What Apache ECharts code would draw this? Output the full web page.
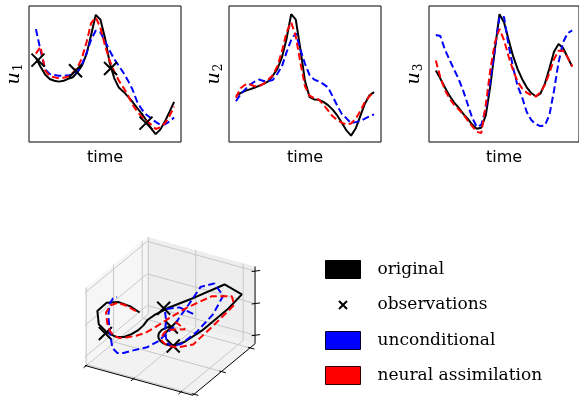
<!DOCTYPE html>
<html>
<head>
<meta charset="utf-8">
<script src="https://cdn.jsdelivr.net/npm/echarts@6/dist/echarts.min.js"></script>
<style>
  html, body { margin: 0; padding: 0; background: #fff; }
  #chart { width: 579px; height: 402px; }
</style>
</head>
<body>
<div id="chart"></div>
<script>
// sample index along time (axis has 5% margin each side)
var time = [0,1,2,3,4,5,6,7,8,9,10,11,12,13,14,15,16,17,18,19,20,21,22,23,24,25,26,27,28,29,30];

// original (black)
var origU1 = [62.0,55.3,49.6,46.3,45.0,44.4,45.0,46.5,47.6,51.3,56.2,64.8,78.8,93.5,90.0,76.5,58.5,47.0,40.0,37.0,33.4,29.4,25.0,20.7,15.8,10.1,5.8,9.1,15.0,22.2,29.5];
var origU2 = [34.0,36.0,37.6,38.7,39.9,41.3,42.8,44.6,48.7,53.8,62.4,76.0,94.0,90.0,68.3,44.8,33.0,31.3,31.0,29.5,27.1,23.8,19.5,14.2,8.5,4.7,9.9,19.0,28.2,34.4,36.7];
var origU3 = [52.5,46.6,40.1,34.1,29.2,25.3,20.9,17.2,12.8,9.7,10.5,19.7,41.4,68.1,94.0,88.0,75.3,63.1,53.6,46.2,40.2,36.0,33.6,35.5,42.9,54.2,66.3,72.0,69.1,62.2,55.5];

// unconditional (blue)
var uncU1 = [83.0,67.5,53.5,50.0,49.2,48.8,48.6,49.0,49.7,51.4,57.0,65.5,75.4,82.0,80.6,74.1,67.3,61.0,56.0,50.9,45.1,38.4,29.4,23.9,20.0,17.5,14.8,12.7,13.0,15.1,18.0];
var uncU2 = [30.0,35.0,38.7,42.0,44.3,45.9,44.9,44.8,45.6,50.2,55.7,66.1,75.0,80.0,67.9,57.5,49.2,45.9,44.6,42.6,40.2,33.5,26.7,20.5,17.4,13.9,14.6,15.4,17.2,18.8,20.3];
var uncU3 = [78.7,77.9,68.0,60.6,53.4,46.5,38.0,27.9,17.8,11.2,12.6,24.7,45.2,68.5,92.0,92.0,71.1,54.8,41.1,32.7,22.1,16.2,13.1,11.7,12.2,20.0,37.7,58.7,73.3,80.0,82.0];

// neural assimilation (red)
var nnU1 = [65.0,70.0,52.5,48.5,47.6,46.9,47.3,48.1,50.8,54.5,61.8,73.5,87.5,91.5,84.0,71.0,60.0,51.9,45.2,40.0,34.2,27.4,22.2,18.5,15.8,12.8,9.6,10.8,13.7,19.0,26.0];
var nnU2 = [32.5,39.5,42.1,42.6,41.0,41.1,42.8,45.8,49.2,55.8,66.8,80.7,88.0,77.5,58.5,40.9,34.0,32.3,31.2,27.4,23.2,18.9,16.2,14.2,12.8,13.6,17.2,22.6,29.4,33.6,37.0];
var nnU3 = [60.0,47.5,38.3,32.1,27.5,24.1,20.5,15.8,11.6,7.5,6.5,27.5,53.4,73.2,83.1,74.9,63.1,52.7,44.4,39.3,36.3,34.3,33.5,36.4,42.1,50.8,60.8,67.1,67.1,62.2,55.5];

// observations (u1 observed)
var obsTime = [0.45, 8.6, 16.2, 23.9];
var obsU1 = [60.2, 52.4, 54.1, 13.9];
var obsU2 = [34.5, 51.0, 32.8, 8.7];
var obsU3 = [50.0, 11.5, 73.0, 41.0];

// 3d axes limits and ticks
var lim3dU1 = [0, 100];
var lim3dU2 = [0, 100];
var lim3dU3 = [0, 100];
var tick3dU1 = [1, 45, 89];
var tick3dU2 = [2, 46, 92];
var tick3dU3 = [11, 52, 94];

var BLACK = '#000000', BLUE = '#0000ff', RED = '#ff0000';
var DASH = [7, 3.5];

// --- 3d projection (azim -60, elev 30, box aspect 4:4:3) ---
var az = -60 * Math.PI / 180, el = 30 * Math.PI / 180, zAsp = 0.75;
function projN(x, y, z) {
  var sx = -Math.sin(az) * x + Math.cos(az) * y;
  var sy = -Math.sin(el) * Math.cos(az) * x - Math.sin(el) * Math.sin(az) * y + Math.cos(el) * z;
  return [sx, sy];
}
function nrm(v, lim) { return (v - lim[0]) / (lim[1] - lim[0]) - 0.5; }
function proj(a, b, c) {
  return projN(nrm(a, lim3dU1), nrm(b, lim3dU2), nrm(c, lim3dU3) * zAsp);
}

var h = 0.5 * zAsp;
var boxShapes = [];
function pane(corners, fill) {
  boxShapes.push({kind: 'pane', pts: corners.map(function (c) { return projN(c[0], c[1], c[2]); }), fill: fill});
}
function seg(corners, stroke, width) {
  boxShapes.push({kind: 'line', pts: corners.map(function (c) { return projN(c[0], c[1], c[2]); }), stroke: stroke, width: width});
}
pane([[-0.5,-0.5,-h],[-0.5,0.5,-h],[-0.5,0.5,h],[-0.5,-0.5,h]], '#f6f6f6');
pane([[-0.5,0.5,-h],[0.5,0.5,-h],[0.5,0.5,h],[-0.5,0.5,h]], '#eeeeee');
pane([[-0.5,-0.5,-h],[0.5,-0.5,-h],[0.5,0.5,-h],[-0.5,0.5,-h]], '#f2f2f2');
var GRID = '#c8c8c8';
tick3dU1.forEach(function (v) {
  var x = nrm(v, lim3dU1);
  seg([[x,-0.5,-h],[x,0.5,-h],[x,0.5,h]], GRID, 1);
});
tick3dU2.forEach(function (v) {
  var y = nrm(v, lim3dU2);
  seg([[0.5,y,-h],[-0.5,y,-h],[-0.5,y,h]], GRID, 1);
});
tick3dU3.forEach(function (v) {
  var z = nrm(v, lim3dU3) * zAsp;
  seg([[-0.5,-0.5,z],[-0.5,0.5,z],[0.5,0.5,z]], GRID, 1);
});
seg([[-0.5,-0.5,-h],[0.5,-0.5,-h]], BLACK, 1);
seg([[0.5,-0.5,-h],[0.5,0.5,-h]], BLACK, 1);
seg([[0.5,0.5,-h],[0.5,0.5,h]], BLACK, 1);
tick3dU1.forEach(function (v) {
  var x = nrm(v, lim3dU1);
  seg([[x,-0.48,-h],[x,-0.54,-h]], BLACK, 1);
});
tick3dU2.forEach(function (v) {
  var y = nrm(v, lim3dU2);
  seg([[0.48,y,-h],[0.54,y,-h]], BLACK, 1);
});
tick3dU3.forEach(function (v) {
  var z = nrm(v, lim3dU3) * zAsp;
  seg([[0.48,0.48,z],[0.53,0.53,z]], BLACK, 1);
});

var chart = echarts.init(document.getElementById('chart'));

var panelLeft = [29, 229, 429];
var panelVals = [
  [origU1, uncU1, nnU1],
  [origU2, uncU2, nnU2],
  [origU3, uncU3, nnU3]
];

var grids = [], xAxes = [], yAxes = [], series = [];
panelLeft.forEach(function (l, k) {
  grids.push({left: l, top: 6, width: 152, height: 136, show: true, borderColor: '#000', borderWidth: 1, backgroundColor: 'transparent'});
  xAxes.push({
    gridIndex: k, type: 'value', min: -1.5, max: 31.5,
    axisLine: {show: false}, axisTick: {show: false}, axisLabel: {show: false}, splitLine: {show: false},
    name: 'time', nameLocation: 'middle', nameGap: 8,
    nameTextStyle: {fontFamily: 'DejaVu Sans', fontSize: 16, color: '#000'}
  });
  yAxes.push({
    gridIndex: k, type: 'value', min: 0, max: 100,
    axisLine: {show: false}, axisTick: {show: false}, axisLabel: {show: false}, splitLine: {show: false},
    name: '{u|u}{s|' + (k + 1) + '}', nameLocation: 'middle', nameRotate: 90, nameGap: 4,
    nameTextStyle: {
      rich: {
        u: {fontFamily: 'DejaVu Serif', fontStyle: 'italic', fontSize: 19, color: '#000'},
        s: {fontFamily: 'DejaVu Serif', fontSize: 12, color: '#000', verticalAlign: 'bottom', padding: [9, 0, 0, 1]}
      }
    }
  });
  var v = panelVals[k];
  series.push(lineSeries('original', BLACK, 'solid', k, time.map(function (t, i) { return [t, v[0][i]]; }), 3));
  if (k === 0) {
    series.push(obsSeries(k, obsTime.map(function (t, i) { return [t, obsU1[i]]; }), 6));
  }
  series.push(lineSeries('unconditional', BLUE, DASH, k, time.map(function (t, i) { return [t, v[1][i]]; }), 4));
  series.push(lineSeries('neural assimilation', RED, DASH, k, time.map(function (t, i) { return [t, v[2][i]]; }), 5));
});

// projected 3d axes
grids.push({left: 70, top: 230, width: 200, height: 180, show: false});
xAxes.push({gridIndex: 3, type: 'value', min: -0.803, max: 0.803, show: false});
yAxes.push({gridIndex: 3, type: 'value', min: -0.723, max: 0.723, show: false});

series.push({
  type: 'custom', xAxisIndex: 3, yAxisIndex: 3, silent: true, z: 1,
  data: boxShapes.map(function (s, i) { return [0, 0]; }),
  renderItem: function (params, api) {
    var s = boxShapes[params.dataIndex];
    var pts = s.pts.map(function (p) { return api.coord(p); });
    if (s.kind === 'pane') {
      return {type: 'polygon', shape: {points: pts}, style: {fill: s.fill, stroke: null}};
    }
    return {type: 'polyline', shape: {points: pts}, style: {fill: null, stroke: s.stroke, lineWidth: s.width}};
  }
});
series.push(lineSeries('original', BLACK, 'solid', 3, time.map(function (t, i) { return proj(origU1[i], origU2[i], origU3[i]); }), 3));
series.push(obsSeries(3, obsU1.map(function (v, i) { return proj(v, obsU2[i], obsU3[i]); }), 3.5));
series.push(lineSeries('unconditional', BLUE, DASH, 3, time.map(function (t, i) { return proj(uncU1[i], uncU2[i], uncU3[i]); }), 4));
series.push(lineSeries('neural assimilation', RED, DASH, 3, time.map(function (t, i) { return proj(nnU1[i], nnU2[i], nnU3[i]); }), 5));

function lineSeries(name, color, type, k, data, z) {
  return {
    type: 'line', name: name, xAxisIndex: k, yAxisIndex: k, data: data,
    color: color, symbol: 'none', clip: false, silent: true, z: z,
    lineStyle: {color: color, width: 2, type: type}
  };
}
function obsSeries(k, data, z) {
  return {
    type: 'scatter', name: 'observations', xAxisIndex: k, yAxisIndex: k, data: data,
    symbol: 'path://M0,0L10,10M10,0L0,10', symbolSize: 13, silent: true, z: z, clip: false,
    itemStyle: {color: 'rgba(0,0,0,0)', borderColor: BLACK, borderWidth: 2, opacity: 1}
  };
}

chart.setOption({
  animation: false,
  grid: grids,
  xAxis: xAxes,
  yAxis: yAxes,
  legend: {
    orient: 'vertical', left: 325, top: 260, padding: 0, itemWidth: 35, itemHeight: 18, itemGap: 16,
    selectedMode: false,
    textStyle: {fontFamily: 'DejaVu Serif', fontSize: 17, color: '#000', padding: [0, 0, 0, 12]},
    data: [
      {name: 'original', icon: 'rect', itemStyle: {color: BLACK, borderColor: BLACK, borderWidth: 1}},
      {name: 'observations', icon: 'path://M0,0M5,5L13,13M13,5L5,13M18,18', itemStyle: {color: 'rgba(0,0,0,0)', borderColor: BLACK, borderWidth: 2}},
      {name: 'unconditional', icon: 'rect', itemStyle: {color: BLUE, borderColor: '#000033', borderWidth: 1}},
      {name: 'neural assimilation', icon: 'rect', itemStyle: {color: RED, borderColor: '#330000', borderWidth: 1}}
    ]
  },
  series: series
});
</script>
</body>
</html>
